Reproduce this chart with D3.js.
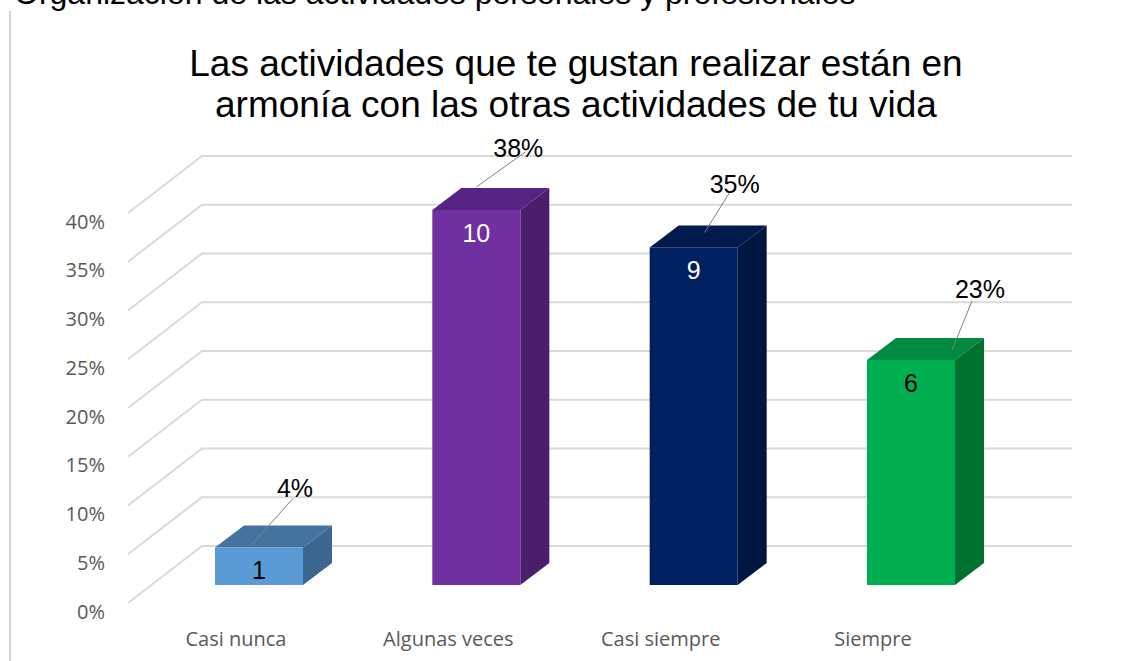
<!DOCTYPE html>
<html>
<head>
<meta charset="utf-8">
<script src="https://cdn.jsdelivr.net/npm/d3@7"></script>
<style>
  body { margin: 0; background: #fff; }
</style>
</head>
<body>
<script>
'use strict';

// chart data
const categories = ['Casi nunca', 'Algunas veces', 'Casi siempre', 'Siempre'];
const counts = [1, 10, 9, 6];
const percents = [0.0385, 0.3846, 0.3462, 0.2308];
const percentLabels = ['4%', '38%', '35%', '23%'];
const yTicks = [0, 0.05, 0.10, 0.15, 0.20, 0.25, 0.30, 0.35, 0.40];

// bar colours: front, top, side
const frontColors = ['#5b9bd5', '#7030a0', '#002060', '#00b050'];
const topColors = ['#44739f', '#582483', '#001a4e', '#008a3f'];
const sideColors = ['#3b6690', '#4a1e6a', '#001642', '#00722f'];
const innerTextColors = ['#000', '#fff', '#fff', '#000'];

// callout layout (offsets from bar front-top centre): label, line start, line end
const calloutLabel = [[36, -59], [42, -62], [41, -63], [69, -71]];
const calloutFrom = [[34, -49], [49, -58], [36, -55], [61, -59]];
const calloutTo = [[-8, -2], [0, -23], [11, -15], [41, -10]];

const width = 1125, height = 661;
const svg = d3.select('body').append('svg')
  .attr('width', width)
  .attr('height', height);

// 3d offsets
const barDepth = { dx: 29, dy: -22 };
const wallShift = { dx: 51, dy: -39 };   // bar front plane -> back wall
const sideWall = { dx: 74, dy: -57 };    // floor front -> back wall

// scales (bar front plane)
const yScale = d3.scaleLinear().domain([0, 0.40]).range([585, 195]);
const xBar = d3.scalePoint().domain(categories).range([259, 911]);
const xLabel = d3.scalePoint().domain(categories).range([236, 873]);
const barWidth = 88;

const wallLeft = 202, wallRight = 1072;

// cut-off heading + left border
svg.append('text')
  .attr('x', 14).attr('y', 4)
  .style('font', '32px "Liberation Sans", Arial, sans-serif')
  .attr('fill', '#000')
  .text('Organización de las actividades personales y profesionales');

svg.append('line')
  .attr('x1', 10).attr('x2', 10)
  .attr('y1', 11).attr('y2', height)
  .attr('stroke', '#d4d4d4').attr('stroke-width', 2);

// title
const title = svg.append('text')
  .attr('text-anchor', 'middle')
  .style('font', '37px "Liberation Sans", Arial, sans-serif')
  .attr('fill', '#000');
title.append('tspan').attr('x', 576).attr('y', 76)
  .text('Las actividades que te gustan realizar están en');
title.append('tspan').attr('x', 576).attr('y', 117)
  .text('armonía con las otras actividades de tu vida');

// gridlines: back wall + side wall diagonals
const grid = svg.append('g');
yTicks.forEach((t) => {
  let yb = yScale(t) + wallShift.dy;
  grid.append('polyline')
    .attr('points', [
      [wallLeft - sideWall.dx, yb - sideWall.dy],
      [wallLeft, yb],
      [wallRight, yb]
    ].map((p) => p.join(',')).join(' '))
    .attr('fill', 'none')
    .attr('stroke', '#d9d9d9')
    .attr('stroke-width', 2);
});

// y axis labels
svg.append('g').selectAll('text')
  .data(yTicks)
  .enter()
  .append('text')
  .attr('x', 105)
  .attr('y', (d) => yScale(d) + 26)
  .attr('text-anchor', 'end')
  .attr('dominant-baseline', 'central')
  .style('font', '20px "Open Sans", sans-serif')
  .attr('fill', '#595959')
  .text(d3.format('.0%'));

// bars
const bars = svg.append('g').selectAll('g')
  .data(categories)
  .enter()
  .append('g');

function facePoints(pts) {
  return pts.map((p) => p.join(',')).join(' ');
}

bars.each(function(c, i) {
  let g = d3.select(this);
  let x0 = xBar(c) - barWidth / 2;
  let x1 = xBar(c) + barWidth / 2;
  let yt = yScale(percents[i]);
  let yb = yScale(0);
  let dx = barDepth.dx, dy = barDepth.dy;

  // top face
  g.append('polygon')
    .attr('points', facePoints([[x0, yt], [x1, yt], [x1 + dx, yt + dy], [x0 + dx, yt + dy]]))
    .attr('fill', topColors[i]);
  // side face
  g.append('polygon')
    .attr('points', facePoints([[x1, yt], [x1 + dx, yt + dy], [x1 + dx, yb + dy], [x1, yb]]))
    .attr('fill', sideColors[i]);
  // front face
  g.append('rect')
    .attr('x', x0).attr('y', yt)
    .attr('width', barWidth).attr('height', yb - yt)
    .attr('fill', frontColors[i]);

  // count inside bar
  g.append('text')
    .attr('x', xBar(c))
    .attr('y', yt + 32)
    .attr('text-anchor', 'middle')
    .style('font', '25px "Liberation Sans", Arial, sans-serif')
    .attr('fill', innerTextColors[i])
    .text(counts[i]);

  // callout line + percent label
  let cx = xBar(c);
  g.append('line')
    .attr('x1', cx + calloutFrom[i][0]).attr('y1', yt + calloutFrom[i][1])
    .attr('x2', cx + calloutTo[i][0]).attr('y2', yt + calloutTo[i][1])
    .attr('stroke', '#808080').attr('stroke-width', 1);
  g.append('text')
    .attr('x', cx + calloutLabel[i][0])
    .attr('y', yt + calloutLabel[i][1])
    .attr('text-anchor', 'middle')
    .attr('dominant-baseline', 'central')
    .style('font', '25px "Liberation Sans", Arial, sans-serif')
    .attr('fill', '#000')
    .text(percentLabels[i]);
});

// category labels
svg.append('g').selectAll('text')
  .data(categories)
  .enter()
  .append('text')
  .attr('x', (d) => xLabel(d))
  .attr('y', 638)
  .attr('text-anchor', 'middle')
  .attr('dominant-baseline', 'central')
  .style('font', '20px "Open Sans", sans-serif')
  .attr('fill', '#595959')
  .text((d) => d);
</script>
</body>
</html>
